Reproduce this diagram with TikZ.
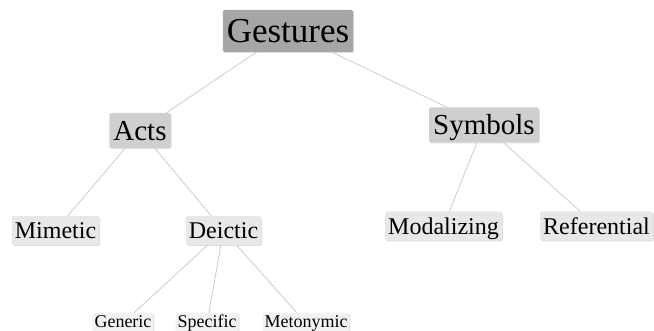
\documentclass[tikz,border=0pt]{standalone}
\usepackage{fontspec}
\setmainfont{Liberation Serif}
\usetikzlibrary{shadows}

\tikzset{
    topic/.style={rounded corners=1.5pt, inner xsep=4pt, inner ysep=0pt,
        text depth=0pt,
        drop shadow={shadow xshift=1pt, shadow yshift=-1pt, fill=black!25}},
    rootbox/.style={topic, fill=black!35, minimum height=42pt, text height=23pt,
        font=\fontsize{35}{40}\selectfont},
    mainbox/.style={topic, fill=black!19, minimum height=35pt, text height=19.5pt,
        font=\fontsize{29}{33}\selectfont},
    subbox/.style={topic, fill=black!9, minimum height=29pt, inner xsep=3pt, text height=16.5pt,
        font=\fontsize{24}{28}\selectfont},
    leafbox/.style={topic, fill=black!5, minimum height=20pt, inner xsep=2pt, text height=12pt,
        text depth=3pt, font=\fontsize{18}{21}\selectfont},
    branch/.style={draw=black!20, line width=0.8pt}
}

\begin{document}
\begin{tikzpicture}[x=1pt, y=-1pt]
    \useasboundingbox (0,0) rectangle (654,331);
    % main levels
    \node[rootbox] (gestures) at (288,31) {Gestures};
    \node[mainbox] (acts) at (140,130.5) {Acts};
    \node[mainbox] (symbols) at (484,125) {Symbols};
    % third level
    \node[subbox] (mimetic) at (55.5,230.5) {Mimetic};
    \node[subbox] (deictic) at (223.5,230.5) {Deictic};
    \node[subbox] (modalizing) at (443.5,226) {Modalizing};
    \node[subbox] (referential) at (596.5,226) {Referential};
    % leaves, cut at the bottom
    \node[leafbox] (generic) at (123,323) {Generic};
    \node[leafbox] (specific) at (207,323) {Specific};
    \node[leafbox] (metonymic) at (306,323) {Metonymic};
    \foreach \a/\b in {gestures/acts, gestures/symbols, acts/mimetic, acts/deictic,
        symbols/modalizing, symbols/referential, deictic/generic, deictic/specific,
        deictic/metonymic} {
    \draw[branch] (\a) -- (\b);
    }
\end{tikzpicture}
\end{document}
